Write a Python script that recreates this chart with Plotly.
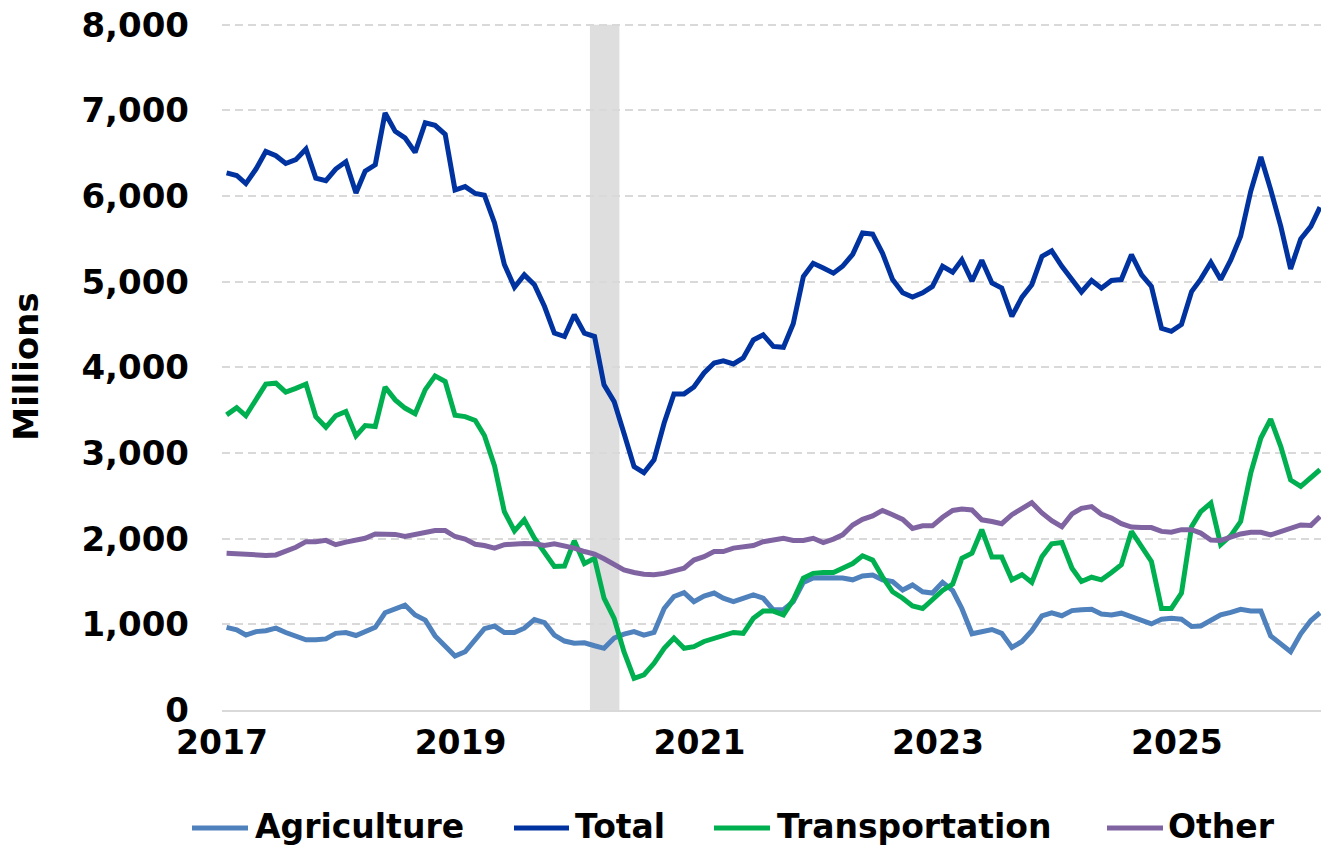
import pandas as pd
import plotly.graph_objects as go

# Monthly dates Jan 2017 .. Mar 2026 (plotted mid-month)
dates = pd.date_range("2017-01-01", periods=111, freq="MS") + pd.Timedelta(days=14)

total = [6270, 6240, 6145, 6315, 6520, 6470, 6380, 6425, 6550, 6210, 6180, 6315,
         6400, 6035, 6290, 6365, 6970, 6755, 6680, 6510, 6855, 6825, 6720, 6070,
         6110, 6030, 6010, 5685, 5200, 4935, 5080, 4965, 4710, 4400, 4360, 4615,
         4400, 4360, 3795, 3600, 3230, 2840, 2770, 2920, 3350, 3690, 3690, 3770,
         3935, 4050, 4075, 4040, 4110, 4320, 4380, 4245, 4235, 4510, 5060, 5215,
         5160, 5100, 5180, 5320, 5570, 5555, 5335, 5025, 4870, 4820, 4870, 4945,
         5180, 5110, 5255, 5005, 5250, 4985, 4925, 4595, 4820, 4965, 5295, 5360,
         5180, 5030, 4880, 5015, 4925, 5015, 5025, 5315, 5080, 4945, 4455, 4420,
         4500, 4885, 5030, 5225, 5025, 5255, 5530, 6055, 6455, 6075, 5645, 5150,
         5500, 5645, 5870]

transportation = [3445, 3530, 3435, 3620, 3805, 3815, 3710, 3755, 3805, 3425, 3300, 3435,
                  3485, 3200, 3320, 3310, 3770, 3620, 3525, 3460, 3740, 3900, 3835, 3440,
                  3425, 3380, 3205, 2850, 2315, 2090, 2220, 2005, 1830, 1675, 1680, 1975,
                  1710, 1770, 1305, 1070, 680, 370, 410, 545, 720, 840, 720, 740,
                  800, 840, 875, 905, 895, 1070, 1155, 1155, 1110, 1285, 1540, 1595,
                  1605, 1605, 1655, 1710, 1800, 1750, 1555, 1380, 1305, 1215, 1185, 1290,
                  1395, 1470, 1770, 1830, 2105, 1785, 1785, 1520, 1580, 1490, 1790, 1940,
                  1955, 1655, 1500, 1550, 1520, 1605, 1695, 2085, 1910, 1735, 1185, 1185,
                  1365, 2140, 2315, 2415, 1930, 2035, 2200, 2765, 3175, 3395, 3075, 2685,
                  2610, 2720, 2805]

other = [1830, 1820, 1820, 1805, 1805, 1810, 1850, 1900, 1965, 1965, 1980, 1930,
         1960, 1980, 2005, 2055, 2050, 2050, 2025, 2050, 2080, 2095, 2095, 2025,
         1995, 1935, 1920, 1890, 1930, 1945, 1945, 1940, 1920, 1940, 1915, 1890,
         1850, 1820, 1765, 1695, 1635, 1605, 1585, 1580, 1595, 1625, 1655, 1750,
         1790, 1850, 1850, 1890, 1910, 1920, 1965, 1985, 2005, 1980, 1980, 2005,
         1955, 1995, 2045, 2160, 2225, 2265, 2330, 2280, 2225, 2120, 2150, 2150,
         2250, 2330, 2345, 2335, 2220, 2200, 2175, 2280, 2345, 2420, 2300, 2210,
         2140, 2290, 2355, 2375, 2285, 2240, 2175, 2135, 2130, 2130, 2085, 2075,
         2105, 2105, 2065, 1985, 1980, 2025, 2055, 2075, 2075, 2045, 2085, 2120,
         2160, 2155, 2260]

agriculture = [965, 935, 875, 915, 925, 955, 905, 865, 820, 820, 830, 895,
               905, 870, 915, 965, 1135, 1175, 1225, 1110, 1050, 865, 740, 630,
               680, 820, 950, 980, 905, 905, 955, 1055, 1020, 875, 805, 780,
               785, 750, 720, 840, 885, 915, 875, 905, 1185, 1325, 1370, 1265,
               1330, 1365, 1305, 1265, 1305, 1345, 1305, 1170, 1170, 1265, 1490, 1540,
               1545, 1545, 1540, 1520, 1565, 1575, 1520, 1500, 1400, 1460, 1380, 1365,
               1490, 1395, 1185, 890, 915, 940, 895, 730, 800, 925, 1100, 1135,
               1100, 1160, 1170, 1175, 1120, 1110, 1130, 1090, 1050, 1005, 1060, 1070,
               1060, 975, 980, 1045, 1110, 1140, 1175, 1155, 1155, 865, 770, 680,
               890, 1045, 1135]

series_names = ["Agriculture", "Total", "Transportation", "Other"]
year_ticks = ["2017-01-01", "2019-01-01", "2021-01-01", "2023-01-01", "2025-01-01"]
year_labels = ["2017", "2019", "2021", "2023", "2025"]
y_ticks = [0, 1000, 2000, 3000, 4000, 5000, 6000, 7000, 8000]

recession_start = "2020-02-01"
recession_end = "2020-05-01"

FONT = "DejaVu Sans"
COLORS = ["#4f81bd", "#0033a0", "#00b050", "#8064a2"]
Y_MAX = 8020            # a little headroom so the 8,000 gridline is drawn
W, H = 1321, 845
PH = 685 / (1 - (Y_MAX - 8000) / Y_MAX)
ML, MR, MB = 222, 0, 135
MT = H - MB - PH
PW = W - ML - MR


def px_x(x):
    # screen pixel -> paper fraction
    return (x - ML) / PW


def px_y(y):
    return (H - MB - y) / PH


values = [agriculture, total, transportation, other]

fig = go.Figure()
for name, vals, color in zip(series_names, values, COLORS):
    fig.add_trace(go.Scatter(x=dates, y=vals, name=name, mode="lines",
                             line=dict(color=color, width=5), showlegend=False))

fig.add_shape(type="rect", xref="x", yref="y", x0=recession_start, x1=recession_end,
              y0=0, y1=8000, fillcolor="#dadada", opacity=0.9, line_width=0,
              layer="below")

# Legend drawn below the plot (long line keys like the original)
legend_sym = [(192, 248), (514, 569), (714, 770), (1107, 1163)]
legend_text_x = [253, 573, 775, 1166]
LEG_Y_SYM, LEG_Y_TXT = 828, 826
for name, color, (sx0, sx1), tx in zip(series_names, COLORS, legend_sym, legend_text_x):
    fig.add_shape(type="line", xref="paper", yref="paper",
                  x0=px_x(sx0), x1=px_x(sx1), y0=px_y(LEG_Y_SYM), y1=px_y(LEG_Y_SYM),
                  line=dict(color=color, width=5))
    fig.add_annotation(xref="paper", yref="paper", x=px_x(tx), y=px_y(LEG_Y_TXT),
                       xanchor="left", yanchor="middle", showarrow=False, text=name,
                       font=dict(family=FONT, size=33, color="black", weight="bold"))

fig.update_layout(
    width=W, height=H,
    margin=dict(l=ML, r=MR, t=MT, b=MB, autoexpand=False),
    paper_bgcolor="white", plot_bgcolor="white",
    font=dict(family=FONT, color="black"),
    showlegend=False,
)
fig.update_xaxes(
    type="date",
    range=["2017-01-01", "2026-03-18"],
    tickvals=year_ticks, ticktext=year_labels,
    tickfont=dict(family=FONT, size=33, color="black", weight="bold"),
    showgrid=False, showline=True, linecolor="#d9d9d9", linewidth=2,
    ticks="", zeroline=False, automargin=False, ticklabelstandoff=2,
    ticklabeloverflow="allow",
)
fig.update_yaxes(
    range=[0, Y_MAX], tickvals=y_ticks, tickformat=",d",
    tickfont=dict(family=FONT, size=34, color="black", weight="bold"),
    showgrid=True, gridcolor="#d9d9d9", gridwidth=2, griddash="8px,5px",
    zeroline=False, showline=False, ticks="", ticklabelstandoff=32, automargin=False,
    ticklabeloverflow="allow",
    title=dict(text="Millions", font=dict(family=FONT, size=34, color="black", weight="bold"),
               standoff=32),
)

# remove the page's default body margin so the figure fills the window exactly
fig.write_html("out.html", config={"displayModeBar": False},
               post_script="document.body.style.margin='0px';")
